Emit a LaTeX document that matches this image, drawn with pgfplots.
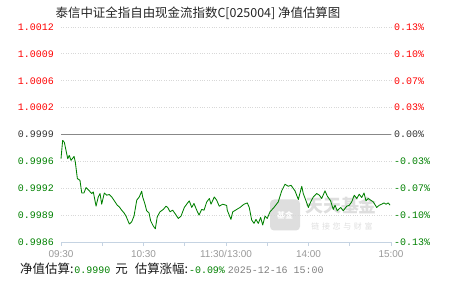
\documentclass[border=0pt]{standalone}
\usepackage{pgfplots}
\pgfplotsset{compat=1.18}
\usepackage{fontspec}
\setmainfont{Liberation Sans}
\newfontfamily\cjk{Noto Sans CJK SC}
\newfontfamily\mono{Liberation Mono}
\definecolor{upred}{HTML}{FF0000}
\definecolor{dngreen}{HTML}{008000}
\definecolor{axblue}{HTML}{C5D3E2}
\definecolor{gridc}{HTML}{D8D8D8}
\definecolor{zeroc}{HTML}{888888}
\definecolor{xlab}{HTML}{999999}
\definecolor{neu}{HTML}{333333}
\definecolor{wm}{HTML}{DEDEDE}
\begin{document}
\begin{tikzpicture}
\path[use as bounding box] (0bp,0bp) rectangle (451bp,281bp);
% watermark
\node[fill=wm, rounded corners=4bp, minimum width=30bp, minimum height=31bp, inner sep=0pt, text=white, font=\cjk\bfseries\fontsize{8}{8}\selectfont] at (285bp,66bp) {\raisebox{-7bp}{基金}};
\node[font=\cjk\bfseries\fontsize{18}{18}\selectfont, text=wm] at (341bp,75bp) {天天基金};
\node[font=\cjk\fontsize{8}{8}\selectfont, text=wm] at (342bp,55bp) {链\,\,接\,\,您\,\,与\,\,财\,\,富};
\begin{axis}[at={(61bp,39bp)}, anchor=south west, scale only axis,
  width=330bp, height=215bp,
  xmin=0, xmax=240, ymin=-0.13, ymax=0.13,
  axis x line=bottom, axis y line=left,
  x axis line style={-, color=axblue, line width=1bp},
  y axis line style={draw=none},
  ytick style={draw=none},
  xtick={0,30,...,240},
  xticklabels={09:30,,10:30,,11:30/13:00,,14:00,,15:00},
  xtick style={color=axblue, line width=1bp},
  tick align=outside, major tick length=4bp,
  xticklabel style={font=\fontsize{10}{10}\selectfont, text=xlab, yshift=-1bp},
  ytick={-0.13,-0.0975,-0.065,-0.0325,0,0.0325,0.065,0.0975,0.13},
  yticklabels={\textcolor{dngreen}{0.9986},\textcolor{dngreen}{0.9989},\textcolor{dngreen}{0.9992},\textcolor{dngreen}{0.9996},\textcolor{neu}{0.9999},\textcolor{upred}{1.0002},\textcolor{upred}{1.0006},\textcolor{upred}{1.0009},\textcolor{upred}{1.0012}},
  yticklabel style={font=\mono\fontsize{10}{10}\selectfont, inner sep=0pt, xshift=-3bp},
  ymajorgrids, grid style={gridc, dotted, line width=0.8bp},
  clip=false,
]
\addplot[zeroc, line width=1bp, forget plot] coordinates {(0,0) (240,0)};
\addplot[dngreen, line width=0.85bp, line join=round] coordinates {
(0,-0.0293) (1.2,-0.0072) (2.4,-0.0093) (4.9,-0.0293) (6.0,-0.0253) (7.3,-0.0313)
(9.5,-0.0265) (10.4,-0.0333) (11.9,-0.0533) (13.8,-0.0554) (15.1,-0.0707) (16.7,-0.0707)
(18.2,-0.0642) (20.6,-0.0682) (22.3,-0.0714) (23.5,-0.0695) (25.5,-0.0866) (27.1,-0.0755)
(28.4,-0.0714) (29.6,-0.0843) (31.5,-0.0707) (33.2,-0.0734) (35.1,-0.0726) (36.9,-0.0755)
(39.3,-0.0815) (40.9,-0.0855) (42.4,-0.0875) (44.1,-0.0915) (45.8,-0.0947) (47.3,-0.0987)
(49.7,-0.1083) (51.4,-0.1056) (53.1,-0.0987) (55.1,-0.0794) (56.9,-0.0755) (58.7,-0.0686)
(59.4,-0.0755) (61.1,-0.0843) (62.3,-0.0923) (64.0,-0.0947) (65.2,-0.1044) (67.1,-0.1107)
(68.6,-0.1140) (70.0,-0.0995) (72.0,-0.0935) (74.4,-0.0906) (76.4,-0.0867) (77.6,-0.0882)
(79.3,-0.0935) (81.2,-0.0915) (82.9,-0.0955) (85.3,-0.1015) (87.3,-0.0987) (89.7,-0.0882)
(92.1,-0.0827) (93.3,-0.0803) (95.1,-0.0882) (96.7,-0.0834) (98.7,-0.0915) (100.4,-0.0975)
(102.3,-0.0906) (104.0,-0.0915) (106.0,-0.0815) (107.9,-0.0774) (109.1,-0.0843) (111.5,-0.0755)
(113.2,-0.0794) (115.1,-0.0867) (117.6,-0.0843) (120.5,-0.0858) (120.9,-0.0915) (123.6,-0.1027)
(124.9,-0.0935) (127.8,-0.0906) (130.2,-0.0882) (133.1,-0.0843) (135.5,-0.0827) (136.9,-0.0882)
(138.7,-0.1035) (140.4,-0.1075) (141.8,-0.1027) (143.5,-0.1075) (145.2,-0.1003) (146.7,-0.1095)
(148.4,-0.0987) (150.0,-0.1015) (152.0,-0.0935) (154.9,-0.0882) (158.0,-0.0815) (160.5,-0.0682)
(162.9,-0.0602) (165.3,-0.0626) (167.3,-0.0614) (170.2,-0.0682) (172.6,-0.0786) (175.1,-0.0626)
(176.2,-0.0714) (178.2,-0.0803) (179.9,-0.0882) (181.6,-0.0815) (183.5,-0.0755) (186.0,-0.0714)
(187.9,-0.0734) (189.6,-0.0774) (192.0,-0.0682) (193.7,-0.0746) (196.1,-0.0803) (198.0,-0.0906)
(199.3,-0.0855) (200.9,-0.0923) (203.4,-0.0882) (205.3,-0.0923) (207.8,-0.0867) (209.7,-0.0855)
(211.4,-0.0815) (213.3,-0.0734) (215.1,-0.0774) (216.9,-0.0722) (218.7,-0.0762) (220.4,-0.0707)
(221.8,-0.0803) (223.5,-0.0774) (225.2,-0.0794) (227.1,-0.0815) (229.6,-0.0882) (231.5,-0.0855)
(233.2,-0.0843) (234.9,-0.0827) (236.4,-0.0843) (238.0,-0.0827) (239.3,-0.0855)
};
\end{axis}
\begin{axis}[at={(61bp,39bp)}, anchor=south west, scale only axis,
  width=330bp, height=215bp,
  xmin=0, xmax=240, ymin=-0.13, ymax=0.13,
  axis y line*=right, axis x line=none,
  y axis line style={draw=none}, ytick style={draw=none},
  ytick={-0.13,-0.0975,-0.065,-0.0325,0,0.0325,0.065,0.0975,0.13},
  yticklabels={\textcolor{dngreen}{-0.13\%},\textcolor{dngreen}{-0.10\%},\textcolor{dngreen}{-0.07\%},\textcolor{dngreen}{-0.03\%},\textcolor{neu}{0.00\%},\textcolor{upred}{0.03\%},\textcolor{upred}{0.07\%},\textcolor{upred}{0.10\%},\textcolor{upred}{0.13\%}},
  yticklabel style={font=\mono\fontsize{10}{10}\selectfont, inner sep=0pt, xshift=3bp},
]
\addplot[draw=none] coordinates {(0,0)};
\end{axis}
\node[font=\cjk\fontsize{12.5}{12.5}\selectfont, text=black!85] at (198bp,268bp) {泰信中证全指自由现金流指数C[025004] 净值估算图};
\node[anchor=west, inner sep=0pt, font=\cjk\fontsize{12.5}{12.5}\selectfont, text=black!90] at (20bp,12bp) {净值估算:\hspace{1bp}\textcolor{dngreen}{\mono\fontsize{10}{10}\selectfont 0.9990}\hspace{5bp}元\hspace{7bp}估算涨幅:\hspace{1bp}\textcolor{dngreen}{\mono\fontsize{10}{10}\selectfont -0.09\%}\hspace{3bp}\textcolor{gray}{\mono\fontsize{10}{10}\selectfont 2025-12-16 15:00}};
\end{tikzpicture}
\end{document}
